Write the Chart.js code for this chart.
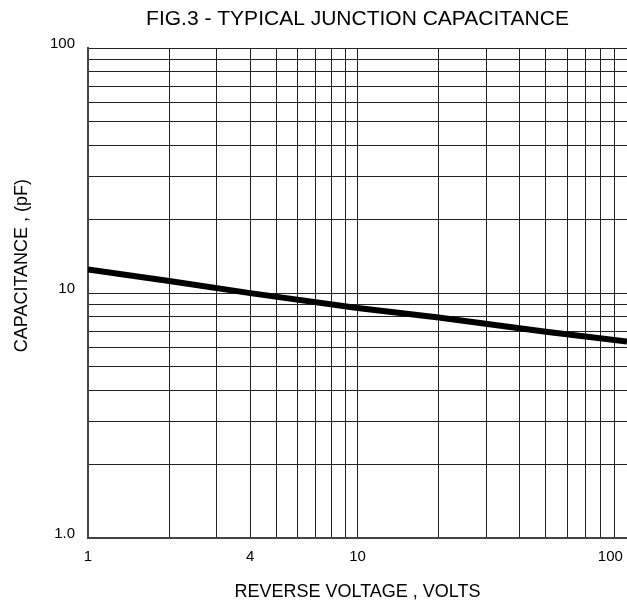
<!DOCTYPE html>
<html>
<head>
<meta charset="utf-8">
<title>FIG.3 - TYPICAL JUNCTION CAPACITANCE</title>
<script src="https://cdn.jsdelivr.net/npm/chart.js@4.4.1/dist/chart.umd.min.js"></script>
<style>
    html, body { margin: 0; padding: 0; background: #fff; }
    canvas { display: block; }
</style>
</head>
<body>
<canvas id="capChart" width="627" height="605"></canvas>
<script>
// curve (straight on log-log paper)
const voltage = [1, 2, 4, 10, 20, 50, 100];
const capacitance = [12.5, 11.2, 10.0, 8.7, 7.95, 6.95, 6.35];

// log paper grid: every 1..9 step of each decade
const gridTicks = [1, 2, 3, 4, 5, 6, 7, 8, 9, 10, 20, 30, 40, 50, 60, 70, 80, 90, 100];
const xTickLabels = { 1: '1', 4: '4', 10: '10', 100: '100' };
const yTickLabels = { 1: '1.0', 10: '10', 100: '100' };

const chartTitle = 'FIG.3 - TYPICAL JUNCTION CAPACITANCE';
const xTitle = 'REVERSE VOLTAGE , VOLTS';
const yTitle = 'CAPACITANCE , (pF)';

Chart.defaults.font.family = '"Liberation Sans", Arial, sans-serif';
Chart.defaults.color = '#000';

const gridColor = '#222';

const useGridTicks = (scale) => {
    scale.ticks = gridTicks.map((value) => ({ value }));
};

new Chart(document.getElementById('capChart'), {
    type: 'line',
    data: {
        datasets: [{
            data: voltage.map((v, i) => ({ x: v, y: capacitance[i] })),
            borderColor: '#000',
            borderWidth: 6,
            pointRadius: 0,
            tension: 0,
            fill: false
        }]
    },
    options: {
        responsive: false,
        animation: false,
        layout: { padding: 0 },
        plugins: {
            legend: { display: false },
            tooltip: { enabled: false },
            title: {
                display: true,
                text: chartTitle,
                fullSize: false,
                color: '#000',
                font: { size: 21, weight: 'normal' },
                padding: { top: 7, bottom: 16 }
            }
        },
        scales: {
            x: {
                type: 'logarithmic',
                min: 1,
                max: 100,
                afterBuildTicks: useGridTicks,
                afterFit: (scale) => {
                    scale.height = 67;
                    scale.paddingLeft = 0;
                    scale.paddingRight = 0;
                },
                grid: { color: gridColor, lineWidth: 1, drawTicks: false },
                border: { color: '#444', width: 2 },
                ticks: {
                    autoSkip: false,
                    maxRotation: 0,
                    padding: 10,
                    font: { size: 15 },
                    // trailing blanks keep "100" inside the canvas, left of the frame
                    callback: (value) => value === 100 ? '100' + ' '.repeat(8) : (xTickLabels[value] || '')
                },
                title: {
                    display: true,
                    text: xTitle,
                    font: { size: 18 },
                    padding: { top: 0, bottom: 2 }
                }
            },
            y: {
                type: 'logarithmic',
                min: 1,
                max: 100,
                afterBuildTicks: useGridTicks,
                afterFit: (scale) => {
                    scale.width = 88;
                },
                grid: { color: gridColor, lineWidth: 1, drawTicks: false },
                border: { color: '#444', width: 2 },
                ticks: {
                    autoSkip: false,
                    padding: 13,
                    labelOffset: -4,
                    font: { size: 15 },
                    callback: (value) => yTickLabels[value] || ''
                },
                title: {
                    display: true,
                    // leading blanks lift the rotated title a little, as in the figure
                    text: ' '.repeat(11) + yTitle,
                    font: { size: 18 },
                    padding: { top: 11, bottom: 0 }
                }
            }
        }
    }
});
</script>
</body>
</html>
